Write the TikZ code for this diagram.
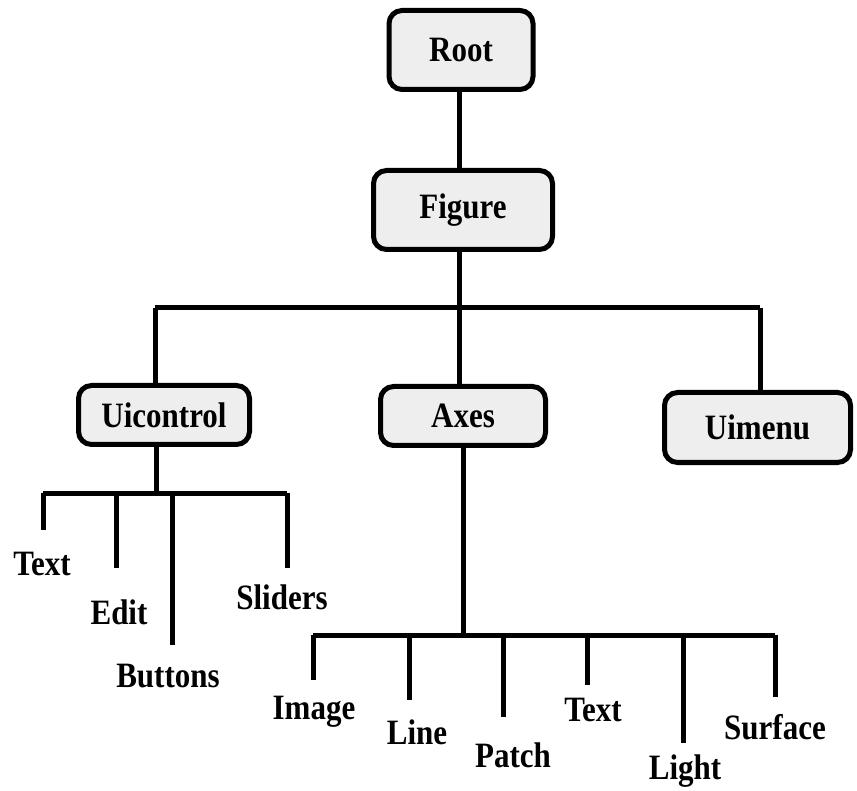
\documentclass[tikz,border=0pt]{standalone}
\usepackage{graphicx}
\usepackage{fontspec}
\setmainfont{Liberation Serif}
\newcommand{\tall}[1]{\scalebox{1}[1.15]{#1}}
\begin{document}
\begin{tikzpicture}[x=1pt,y=-1pt,
  box/.style={draw, line width=5pt, rounded corners=13pt, fill=gray!13, inner sep=0pt,
    font=\fontsize{31}{34}\selectfont\bfseries},
  lbl/.style={inner sep=0pt, font=\fontsize{31}{34}\selectfont\bfseries},
  conn/.style={line width=5pt}]
\useasboundingbox (0,0) rectangle (857,791);
% boxes
\node[box, minimum width=144pt, minimum height=79pt] (root) at (461,50) {\tall{Root}};
\node[box, minimum width=179pt, minimum height=79pt] (figure) at (463,210) {\tall{Figure}};
\node[box, minimum width=171pt, minimum height=59pt] (uic) at (164,415) {\tall{Uicontrol}};
\node[box, minimum width=165pt, minimum height=59pt] (axes) at (463,416) {\tall{Axes}};
\node[box, minimum width=186pt, minimum height=70pt] (uimenu) at (757.5,427.5) {\tall{Uimenu}};
% top level connectors
\coordinate (top) at (459,308);
\coordinate (bl) at (155,308);
\coordinate (br) at (760,308);
\draw[conn] (root.south -| top) -- (figure.north -| top);
\draw[conn] (figure.south -| top) -- (top) -- (axes.north -| top);
\draw[conn] (bl) -- (br);
\draw[conn] (bl) -- (bl |- uic.north);
\draw[conn] (br) -- (br |- uimenu.north);
% uicontrol children
\coordinate (ub) at (156,493);
\coordinate (u1) at (43,493);
\coordinate (u2) at (116,493);
\coordinate (u3) at (172,493);
\coordinate (u4) at (287,493);
\coordinate (e1) at (43,530);
\coordinate (e2) at (116,568);
\coordinate (e3) at (172,645);
\coordinate (e4) at (287,568);
\draw[conn] (uic.south -| ub) -- (ub);
\draw[conn] (u1) -- (u4);
\draw[conn] (u1) -- (e1);
\draw[conn] (u2) -- (e2);
\draw[conn] (u3) -- (e3);
\draw[conn] (u4) -- (e4);
\node[lbl] (ltext) at (42,564) {\tall{Text}};
\node[lbl] (ledit) at (119,612) {\tall{Edit}};
\node[lbl] (lbut) at (168,676) {\tall{Buttons}};
\node[lbl] (lsli) at (282,597) {\tall{Sliders}};
% axes children
\coordinate (ab) at (463,635);
\coordinate (a1) at (313,635);
\coordinate (a2) at (409,635);
\coordinate (a3) at (503,635);
\coordinate (a4) at (587,635);
\coordinate (a5) at (683,635);
\coordinate (a6) at (775,635);
\coordinate (f1) at (313,680);
\coordinate (f2) at (409,700);
\coordinate (f3) at (503,717);
\coordinate (f4) at (587,685);
\coordinate (f5) at (683,743);
\coordinate (f6) at (775,697);
\draw[conn] (axes.south) -- (ab);
\draw[conn] (a1) -- (a6);
\draw[conn] (a1) -- (f1);
\draw[conn] (a2) -- (f2);
\draw[conn] (a3) -- (f3);
\draw[conn] (a4) -- (f4);
\draw[conn] (a5) -- (f5);
\draw[conn] (a6) -- (f6);
\node[lbl] (limg) at (314,712) {\tall{Image}};
\node[lbl] (lline) at (417,732) {\tall{Line}};
\node[lbl] (lpatch) at (513,755) {\tall{Patch}};
\node[lbl] (ltext2) at (593,710) {\tall{Text}};
\node[lbl] (llight) at (685,771) {\tall{Light}};
\node[lbl] (lsurf) at (775,727) {\tall{Surface}};
\end{tikzpicture}
\end{document}
